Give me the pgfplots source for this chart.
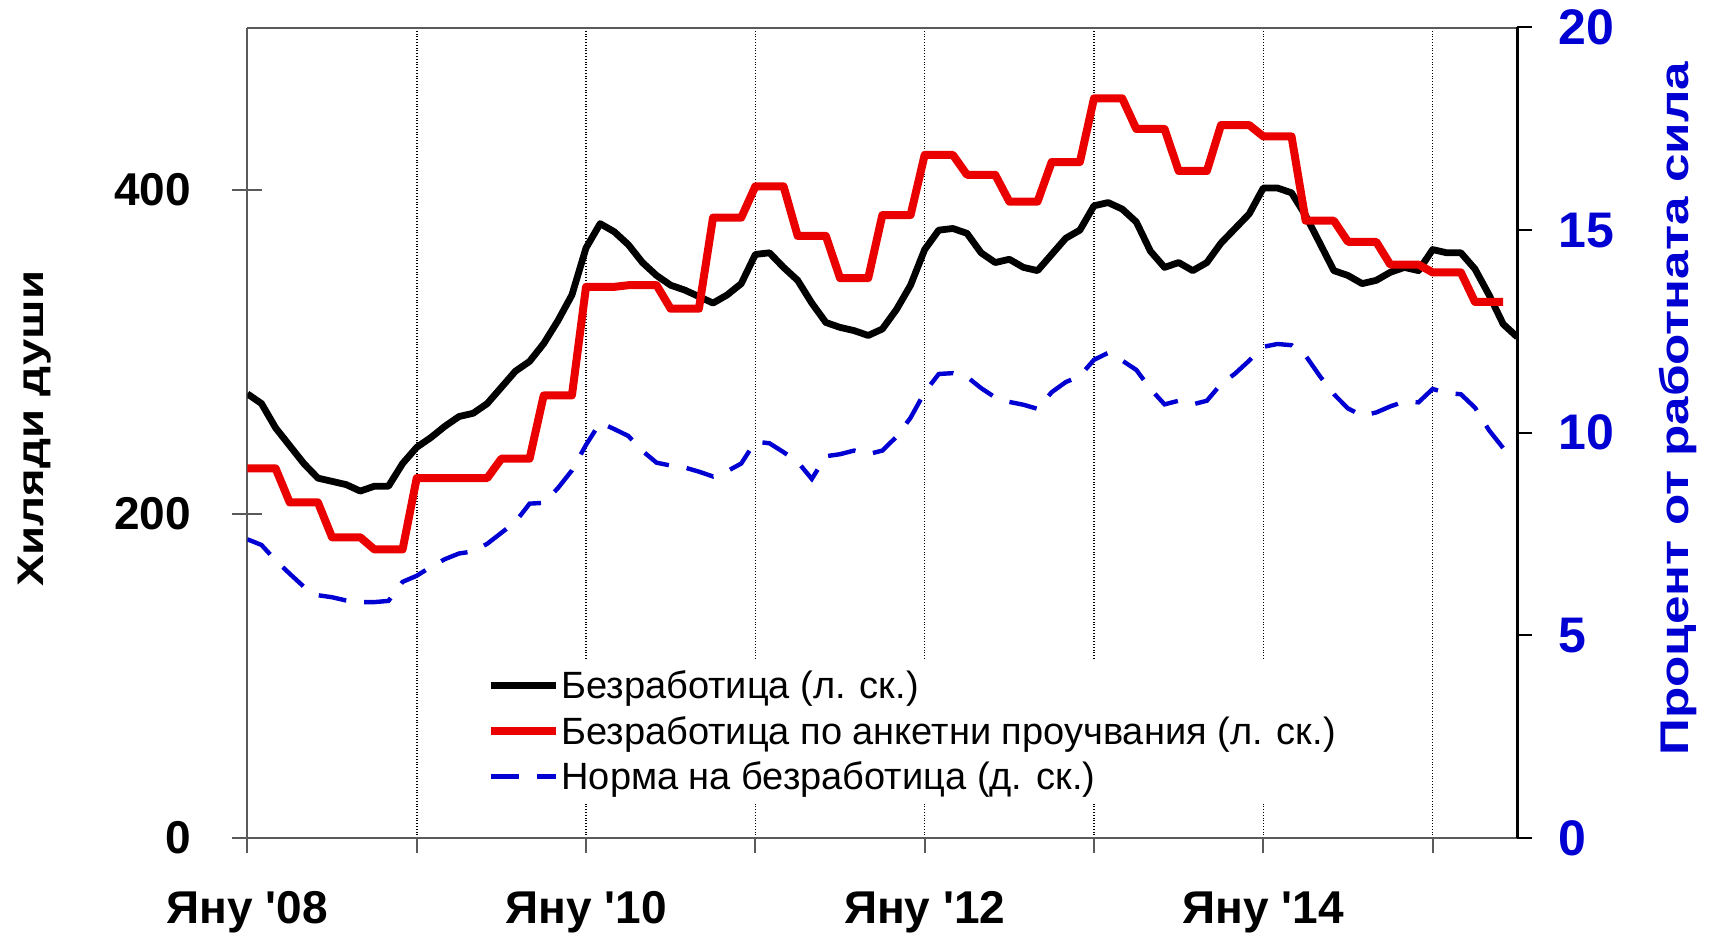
\documentclass[border=0pt]{standalone}
\usepackage{fontspec}
\setmainfont{Liberation Sans}[Ligatures=TeXOff]
\newfontfamily\titlefont{Liberation Sans}[FakeStretch=1.28, Ligatures=TeXOff]
\usepackage{pgfplots}
\pgfplotsset{compat=1.18}
\usetikzlibrary{calc}
\definecolor{myred}{RGB}{235,0,0}
\definecolor{myblue}{RGB}{0,0,210}
\definecolor{axgray}{RGB}{90,90,90}

\begin{document}
\begin{tikzpicture}
\begin{axis}[
  width=635pt, height=405.25pt, scale only axis,
  at={(0,0)}, anchor=south west, clip mode=individual,
  xmin=0, xmax=90, ymin=0, ymax=500,
  axis x line*=bottom, axis y line*=left,
  axis line style={axgray, line width=1pt},
  xtick={0,12,24,36,48,60,72,84},
  xticklabels={Яну '08,,Яну '10,,Яну '12,,Яну '14,},
  x tick style={draw=none},
  xmajorgrids, major grid style={black, densely dotted, line width=0.8pt},
  ytick={0,200,400},
  tick align=center, major tick length=15pt,
  y tick style={axgray, line width=1pt},
  /pgf/number format/assume math mode=true,
  ticklabel style={font=\bfseries\fontsize{23}{27}\selectfont},
  yticklabel style={anchor=east, inner sep=0pt, xshift=-20.5pt},
  xticklabel style={anchor=base, inner sep=0pt, yshift=-35.5pt},
  legend style={at={(rel axis cs:0.184,0.2215)}, anchor=north west, draw=none, fill=white,
    inner xsep=3pt, inner ysep=5pt, row sep=6.25pt, column sep=0.5pt,
    font=\fontsize{19}{22}\selectfont,
    nodes={inner sep=0pt, text height=15pt, text depth=1.5pt}},
  legend cell align=left,
  legend image code/.code={\draw[#1] (0pt,0pt) -- (32.5pt,0pt);},
]
\addplot[black, line width=3.4pt, line join=round] coordinates {
(0,274)(1,268)(2,253)(3,242)(4,231)(5,222)(6,220)(7,218)(8,214)(9,217)(10,217)(11,231)
(12,241)(13,247)(14,254)(15,260)(16,262)(17,268)(18,278)(19,288)(20,294)(21,305)(22,319)(23,335)
(24,364)(25,379)(26,374)(27,366)(28,355)(29,347)(30,341)(31,338)(32,334)(33,330)(34,335)(35,342)
(36,360)(37,361)(38,352)(39,344)(40,330)(41,318)(42,315)(43,313)(44,310)(45,314)(46,326)(47,341)
(48,363)(49,375)(50,376)(51,373)(52,361)(53,355)(54,357)(55,352)(56,350)(57,360)(58,370)(59,375)
(60,390)(61,392)(62,388)(63,380)(64,362)(65,352)(66,355)(67,350)(68,355)(69,367)(70,376)(71,385)
(72,401)(73,401)(74,398)(75,384)(76,367)(77,350)(78,347)(79,342)(80,344)(81,349)(82,352)(83,350)
(84,363)(85,361)(86,361)(87,351)(88,335)(89,317)(90,309)};
\addlegendentry{Безработица (л. ск.)}
\addplot[myred, line width=4pt, line join=round] coordinates {
(0,228)(1,228)(2,228)(3,207)(4,207)(5,207)(6,185.5)(7,185.5)(8,185.5)(9,178)(10,178)(11,178)
(12,222)(13,222)(14,222)(15,222)(16,222)(17,222)(18,234)(19,234)(20,234)(21,273)(22,273)(23,273)
(24,340)(25,340)(26,340)(27,341)(28,341)(29,341)(30,326.5)(31,326.5)(32,326.5)(33,382.7)(34,382.7)(35,382.7)
(36,402)(37,402)(38,402)(39,371.4)(40,371.4)(41,371.4)(42,345.4)(43,345.4)(44,345.4)(45,384.3)(46,384.3)(47,384.3)
(48,421.4)(49,421.4)(50,421.4)(51,409.1)(52,409.1)(53,409.1)(54,392.6)(55,392.6)(56,392.6)(57,417)(58,417)(59,417)
(60,456.3)(61,456.3)(62,456.3)(63,437.4)(64,437.4)(65,437.4)(66,411.5)(67,411.5)(68,411.5)(69,439.8)(70,439.8)(71,439.8)
(72,432.8)(73,432.8)(74,432.8)(75,380.8)(76,380.8)(77,380.8)(78,367.8)(79,367.8)(80,367.8)(81,353.7)(82,353.7)(83,353.7)
(84,348.9)(85,348.9)(86,348.9)(87,330.7)(88,330.7)(89,330.7)};
\addlegendentry{Безработица по анкетни проучвания (л. ск.)}
\addlegendimage{myblue, line width=2.2pt, dash pattern=on 14pt off 9pt}
\addlegendentry{Норма на безработица (д. ск.)}
\draw[axgray, line width=1pt] (rel axis cs:0,1) -- (rel axis cs:1,1);
\node[rotate=90, font=\titlefont\bfseries\fontsize{18.5}{20}\selectfont] at ($(rel axis cs:0,0.505)+(-106.5pt,0)$) {Хиляди души};
\end{axis}
\begin{axis}[
  width=635pt, height=405.25pt, scale only axis,
  at={(0,0)}, anchor=south west, clip mode=individual,
  xmin=0, xmax=90, ymin=0, ymax=20,
  axis x line*=bottom, axis y line*=right,
  x axis line style={axgray, line width=1pt},
  y axis line style={black, line width=1.4pt},
  xtick={0,12,24,36,48,60,72,84}, xticklabels={},
  tick align=outside, major tick length=7.5pt,
  x tick style={axgray, line width=1pt},
  y tick style={black, line width=1pt},
  ytick={0,5,10,15,20},
  /pgf/number format/assume math mode=true,
  yticklabel style={myblue, font=\bfseries\fontsize{25}{29}\selectfont, anchor=west, inner sep=0pt, xshift=12.85pt},
]
\addplot[myblue, line width=2.2pt, dash pattern=on 14pt off 9pt] coordinates {
(0,7.37)(1,7.23)(2,6.85)(3,6.52)(4,6.2)(5,5.99)(6,5.94)(7,5.86)(8,5.82)(9,5.82)(10,5.85)(11,6.32)
(12,6.47)(13,6.69)(14,6.88)(15,7.02)(16,7.07)(17,7.26)(18,7.53)(19,7.8)(20,8.25)(21,8.27)(22,8.63)(23,9.07)
(24,9.7)(25,10.25)(26,10.09)(27,9.92)(28,9.55)(29,9.26)(30,9.19)(31,9.14)(32,9.04)(33,8.92)(34,9.05)(35,9.24)
(36,9.78)(37,9.74)(38,9.52)(39,9.28)(40,8.86)(41,9.42)(42,9.47)(43,9.56)(44,9.47)(45,9.56)(46,9.9)(47,10.37)
(48,11.0)(49,11.45)(50,11.47)(51,11.38)(52,11.1)(53,10.87)(54,10.76)(55,10.69)(56,10.59)(57,11.0)(58,11.25)(59,11.4)
(60,11.8)(61,11.97)(62,11.78)(63,11.55)(64,11.08)(65,10.7)(66,10.79)(67,10.7)(68,10.79)(69,11.2)(70,11.46)(71,11.78)
(72,12.12)(73,12.19)(74,12.16)(75,11.9)(76,11.4)(77,10.95)(78,10.6)(79,10.42)(80,10.5)(81,10.65)(82,10.77)(83,10.75)
(84,11.08)(85,10.98)(86,10.95)(87,10.62)(88,10.06)(89,9.62)(90,9.42)};
\node[rotate=90, font=\titlefont\bfseries\fontsize{20}{22}\selectfont, text=myblue] at ($(rel axis cs:1,0.5296)+(80.3pt,0)$) {Процент от работната сила};
\end{axis}
\pgfresetboundingbox
\path[use as bounding box] (-123.7pt,-47.5pt) rectangle (733.35pt,419pt);
\end{tikzpicture}
\end{document}
